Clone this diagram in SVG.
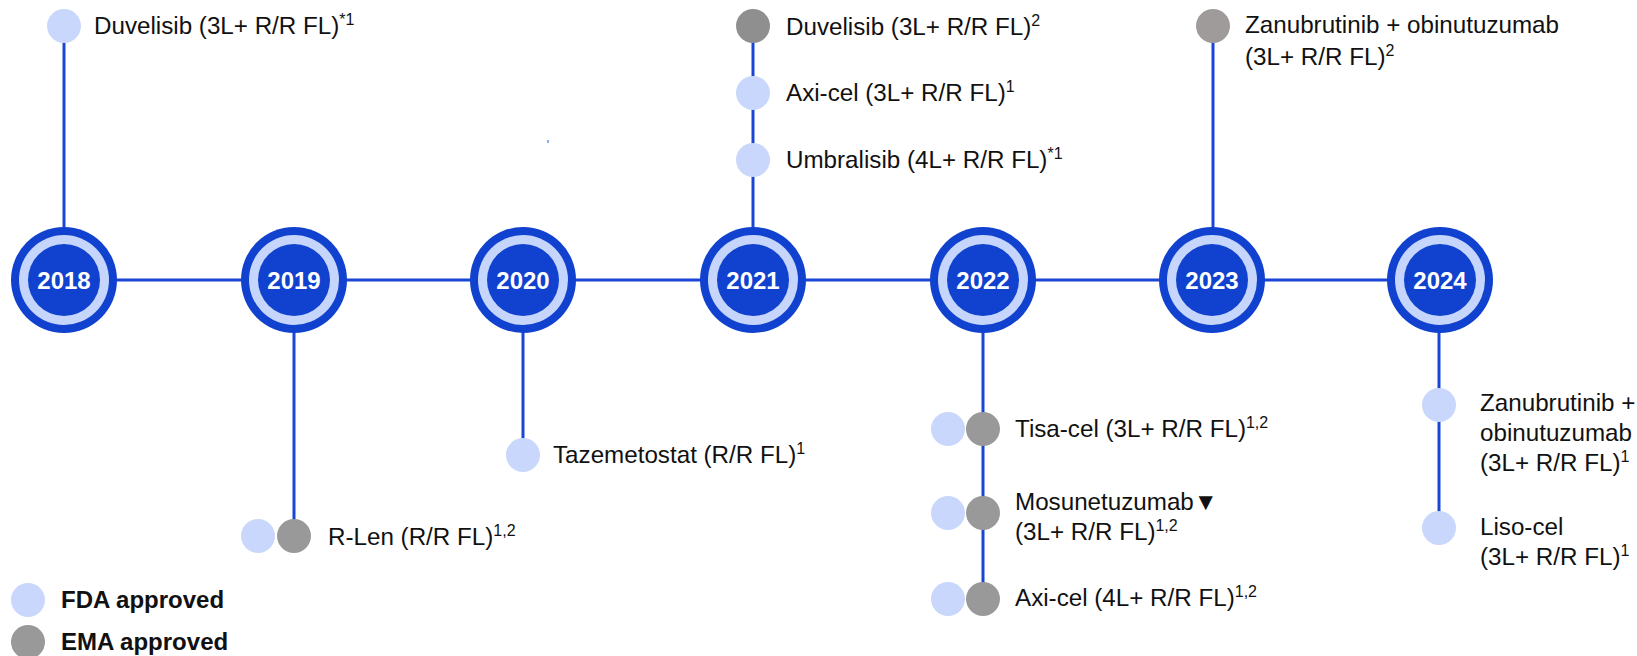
<svg xmlns="http://www.w3.org/2000/svg" width="1637" height="656" viewBox="0 0 1637 656">
<style>
.ln{stroke:#1a46d6;stroke-width:3;fill:none}
.fda{fill:#c8d7fb}
.ema{fill:#999999}
.ring1{fill:#1142cf}
.ring2{fill:#c6d5fb}
.yr{font-family:"Liberation Sans",Arial,sans-serif;font-weight:bold;font-size:24px;fill:#ffffff;text-anchor:middle}
.t{font-family:"Liberation Sans",Arial,sans-serif;font-size:24.2px;fill:#111111}
.s{font-size:16px}
.lg{font-family:"Liberation Sans",Arial,sans-serif;font-weight:bold;font-size:24px;fill:#111111}
</style>
<rect width="1637" height="656" fill="#ffffff"/>
<g id="connectors">
<line class="ln" x1="64" y1="280" x2="1440" y2="280"/>
<line class="ln" x1="64" y1="26" x2="64" y2="240"/>
<line class="ln" x1="294" y1="300" x2="294" y2="536"/>
<line class="ln" x1="523" y1="300" x2="523" y2="455"/>
<line class="ln" x1="753" y1="26" x2="753" y2="240"/>
<line class="ln" x1="983" y1="300" x2="983" y2="599"/>
<line class="ln" x1="1213" y1="26" x2="1213" y2="240"/>
<line class="ln" x1="1439" y1="300" x2="1439" y2="528"/>
</g>
<g id="year-2018"><circle class="ring1" cx="64" cy="280" r="53"/><circle class="ring2" cx="64" cy="280" r="45"/><circle class="ring1" cx="64" cy="280" r="36"/><text class="yr" x="64" y="289">2018</text></g>
<g id="year-2019"><circle class="ring1" cx="294" cy="280" r="53"/><circle class="ring2" cx="294" cy="280" r="45"/><circle class="ring1" cx="294" cy="280" r="36"/><text class="yr" x="294" y="289">2019</text></g>
<g id="year-2020"><circle class="ring1" cx="523" cy="280" r="53"/><circle class="ring2" cx="523" cy="280" r="45"/><circle class="ring1" cx="523" cy="280" r="36"/><text class="yr" x="523" y="289">2020</text></g>
<g id="year-2021"><circle class="ring1" cx="753" cy="280" r="53"/><circle class="ring2" cx="753" cy="280" r="45"/><circle class="ring1" cx="753" cy="280" r="36"/><text class="yr" x="753" y="289">2021</text></g>
<g id="year-2022"><circle class="ring1" cx="983" cy="280" r="53"/><circle class="ring2" cx="983" cy="280" r="45"/><circle class="ring1" cx="983" cy="280" r="36"/><text class="yr" x="983" y="289">2022</text></g>
<g id="year-2023"><circle class="ring1" cx="1212" cy="280" r="53"/><circle class="ring2" cx="1212" cy="280" r="45"/><circle class="ring1" cx="1212" cy="280" r="36"/><text class="yr" x="1212" y="289">2023</text></g>
<g id="year-2024"><circle class="ring1" cx="1440" cy="280" r="53"/><circle class="ring2" cx="1440" cy="280" r="45"/><circle class="ring1" cx="1440" cy="280" r="36"/><text class="yr" x="1440" y="289">2024</text></g>

<g id="item-2018-duvelisib"><circle class="fda" cx="64" cy="26" r="17"/><text class="t" x="94" y="34">Duvelisib (3L+ R/R FL)<tspan class="s" dy="-9">*1</tspan></text></g>
<g id="item-2019-rlen"><circle class="fda" cx="258" cy="536" r="17"/><circle class="ema" cx="294" cy="536" r="17"/><text class="t" x="328" y="545">R-Len (R/R FL)<tspan class="s" dy="-9">1,2</tspan></text></g>
<g id="item-2020-tazemetostat"><circle class="fda" cx="523" cy="455" r="17"/><text class="t" x="553" y="463">Tazemetostat (R/R FL)<tspan class="s" dy="-9">1</tspan></text></g>
<g id="item-2021-duvelisib"><circle cx="753" cy="26" r="17" fill="#8f8f8f"/><text class="t" x="786" y="35">Duvelisib (3L+ R/R FL)<tspan class="s" dy="-9">2</tspan></text></g>
<g id="item-2021-axicel"><circle class="fda" cx="753" cy="93" r="17"/><text class="t" x="786" y="101">Axi-cel (3L+ R/R FL)<tspan class="s" dy="-9">1</tspan></text></g>
<g id="item-2021-umbralisib"><circle class="fda" cx="753" cy="160" r="17"/><text class="t" x="786" y="168">Umbralisib (4L+ R/R FL)<tspan class="s" dy="-9">*1</tspan></text></g>
<g id="item-2022-tisacel"><circle class="fda" cx="948" cy="429" r="17"/><circle class="ema" cx="983" cy="429" r="17"/><text class="t" x="1015" y="437">Tisa-cel (3L+ R/R FL)<tspan class="s" dy="-9">1,2</tspan></text></g>
<g id="item-2022-mosunetuzumab"><circle class="fda" cx="948" cy="513" r="17"/><circle class="ema" cx="983" cy="513" r="17"/><text class="t" x="1015" y="510">Mosunetuzumab▼</text><text class="t" x="1015" y="540">(3L+ R/R FL)<tspan class="s" dy="-9">1,2</tspan></text></g>
<g id="item-2022-axicel"><circle class="fda" cx="948" cy="599" r="17"/><circle class="ema" cx="983" cy="599" r="17"/><text class="t" x="1015" y="606">Axi-cel (4L+ R/R FL)<tspan class="s" dy="-9">1,2</tspan></text></g>
<g id="item-2023-zanubrutinib"><circle cx="1213" cy="26" r="17" fill="#a09b9b"/><text class="t" x="1245" y="33">Zanubrutinib + obinutuzumab</text><text class="t" x="1245" y="65">(3L+ R/R FL)<tspan class="s" dy="-9">2</tspan></text></g>
<g id="item-2024-zanubrutinib"><circle class="fda" cx="1439" cy="405" r="17"/><text class="t" x="1480" y="411">Zanubrutinib +</text><text class="t" x="1480" y="441">obinutuzumab</text><text class="t" x="1480" y="471">(3L+ R/R FL)<tspan class="s" dy="-9">1</tspan></text></g>
<g id="item-2024-lisocel"><circle class="fda" cx="1439" cy="528" r="17"/><text class="t" x="1480" y="535">Liso-cel</text><text class="t" x="1480" y="565">(3L+ R/R FL)<tspan class="s" dy="-9">1</tspan></text></g>

<rect x="547" y="140" width="2" height="3" fill="#8fb0f0"/>

<g id="legend">
<circle class="fda" cx="28" cy="600" r="17"/><text class="lg" x="61" y="608">FDA approved</text>
<circle class="ema" cx="28" cy="642" r="17"/><text class="lg" x="61" y="650">EMA approved</text>
</g>
</svg>
